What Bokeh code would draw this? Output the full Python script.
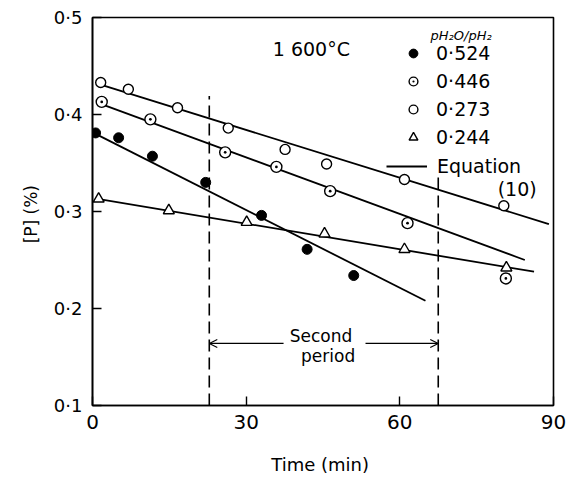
from bokeh.plotting import figure
from bokeh.models import (Range1d, FixedTicker, Legend, LegendItem, Label,
                          Arrow, OpenHead)
from bokeh.embed import file_html
from bokeh.resources import INLINE

FONT = "DejaVu Sans"

# ---- data ----
series_labels = ["0·524", "0·446", "0·273", "0·244"]

t_524 = [0.6, 5.1, 11.7, 22.1, 33.0, 41.9, 51.0]
p_524 = [0.381, 0.376, 0.357, 0.330, 0.296, 0.261, 0.234]

t_446 = [1.8, 11.3, 25.9, 35.9, 46.4, 61.5, 80.7]
p_446 = [0.413, 0.395, 0.361, 0.346, 0.321, 0.288, 0.231]

t_273 = [1.6, 7.0, 16.6, 26.5, 37.6, 45.7, 60.9, 80.3]
p_273 = [0.433, 0.426, 0.407, 0.386, 0.364, 0.349, 0.333, 0.306]

t_244 = [1.2, 14.9, 30.1, 45.3, 60.9, 80.8]
p_244 = [0.313, 0.301, 0.289, 0.277, 0.261, 0.242]

# Equation (10) lines (end points)
fit_t_524 = [0.6, 65.0]
fit_p_524 = [0.380, 0.208]
fit_t_446 = [1.6, 84.4]
fit_p_446 = [0.411, 0.250]
fit_t_273 = [0.8, 89.1]
fit_p_273 = [0.432, 0.287]
fit_t_244 = [1.0, 86.2]
fit_p_244 = [0.313, 0.238]

# second period bounds
period_t = [22.8, 67.5]
period_top = [0.419, 0.335]
period_arrow_p = 0.164

x_ticks = [0, 30, 60, 90]
y_ticks = [0.1, 0.2, 0.3, 0.4, 0.5]
y_tick_labels = ["0·1", "0·2", "0·3", "0·4", "0·5"]

p = figure(width=568, height=477, output_backend="svg", toolbar_location=None,
           x_range=Range1d(0, 90), y_range=Range1d(0.1, 0.5),
           min_border_left=92, min_border_right=15, min_border_top=17,
           min_border_bottom=72)
p.background_fill_color = "white"
p.border_fill_color = "white"
p.xgrid.visible = False
p.ygrid.visible = False
p.outline_line_color = "black"
p.outline_line_width = 1.6
p.outline_line_alpha = 1

for ax in (p.xaxis[0], p.yaxis[0]):
    ax.axis_line_color = "black"
    ax.axis_line_width = 1.6
    ax.major_tick_in = 9
    ax.major_tick_out = 0
    ax.major_tick_line_width = 1.4
    ax.minor_tick_line_color = None
    ax.major_label_text_font = FONT
    ax.major_label_text_color = "black"
    ax.axis_label_text_font = FONT
    ax.axis_label_text_font_style = "normal"
    ax.axis_label_text_color = "black"

p.xaxis.ticker = FixedTicker(ticks=x_ticks)
p.xaxis.major_label_text_font_size = "20px"
p.xaxis.major_label_standoff = 9
p.xaxis.axis_label = "Time  (min)"
p.xaxis.axis_label_text_font_size = "18px"
p.xaxis.axis_label_standoff = 22

p.yaxis.ticker = FixedTicker(ticks=y_ticks)
p.yaxis.major_label_overrides = {v: s for v, s in zip(y_ticks, y_tick_labels)}
p.yaxis.major_label_text_font_size = "18px"
p.yaxis.major_label_standoff = 10
p.yaxis.axis_label = "[P]  (%)"
p.yaxis.axis_label_text_font_size = "17px"
p.yaxis.axis_label_standoff = 10

LW = 1.8
l524 = p.line(fit_t_524, fit_p_524, line_color="black", line_width=LW)
p.line(fit_t_446, fit_p_446, line_color="black", line_width=LW)
p.line(fit_t_273, fit_p_273, line_color="black", line_width=LW)
p.line(fit_t_244, fit_p_244, line_color="black", line_width=LW)

r524 = p.scatter(t_524, p_524, marker="circle", size=10, fill_color="black",
                 line_color="black")
r446 = p.scatter(t_446, p_446, marker="circle_dot", size=11, fill_color="white",
                 line_color="black", line_width=1.4)
r273 = p.scatter(t_273, p_273, marker="circle", size=10, fill_color="white",
                 line_color="black", line_width=1.4)
r244 = p.scatter(t_244, p_244, marker="triangle", size=11, fill_color="white",
                 line_color="black", line_width=1.4)

# second period dashed bounds
p.segment(x0=period_t, y0=[0.1, 0.1], x1=period_t, y1=period_top,
          line_color="black", line_width=1.6, line_dash="12 6")

# arrows
p.add_layout(Arrow(x_start=37.3, y_start=period_arrow_p, x_end=period_t[0], y_end=period_arrow_p,
                   line_width=1.2, line_color="black",
                   end=OpenHead(size=8, line_width=1.2, line_color="black")))
p.add_layout(Arrow(x_start=53.3, y_start=period_arrow_p, x_end=period_t[1], y_end=period_arrow_p,
                   line_width=1.2, line_color="black",
                   end=OpenHead(size=8, line_width=1.2, line_color="black")))

def lab(x, y, text, size, align="left", style="normal"):
    p.add_layout(Label(x=x, y=y, text=text, text_align=align, text_baseline="middle",
                       text_font=FONT, text_font_size=size, text_color="black",
                       text_font_style=style))

lab(44.6, 0.172, "Second", "17px", "center")
lab(46.0, 0.151, "period", "17px", "center")
lab(35.2, 0.468, "1 600°C", "19px")
lab(66.0, 0.481, "pH₂O/pH₂", "13px", style="italic")
lab(79.1, 0.323, "(10)", "19px")

legend = Legend(items=[LegendItem(label=s, renderers=[r]) for s, r in
                       zip(series_labels, [r524, r446, r273, r244])],
                location=(310, 257), orientation="vertical",
                label_text_font=FONT, label_text_font_size="19px",
                label_text_color="black",
                label_height=22, glyph_height=22, glyph_width=22,
                spacing=6, padding=5, margin=0, label_standoff=12,
                border_line_color=None, background_fill_alpha=0)
p.add_layout(legend)

legend2 = Legend(items=[LegendItem(label="Equation", renderers=[l524])],
                 location=(294, 228), orientation="vertical",
                 label_text_font=FONT, label_text_font_size="19px",
                 label_text_color="black",
                 label_height=22, glyph_height=22, glyph_width=41,
                 spacing=0, padding=5, margin=0, label_standoff=10,
                 border_line_color=None, background_fill_alpha=0)
p.add_layout(legend2)

open("out.html", "w").write(file_html(p, INLINE))
